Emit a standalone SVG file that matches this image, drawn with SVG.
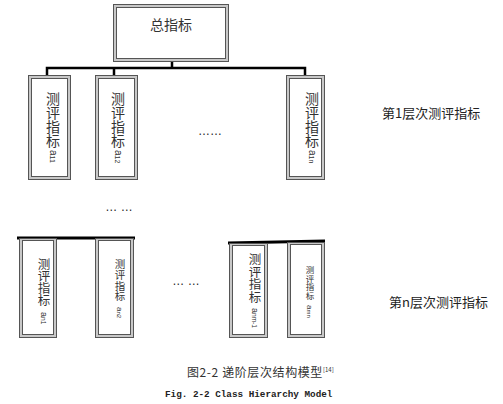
<svg xmlns="http://www.w3.org/2000/svg" width="503" height="404" viewBox="0 0 503 404">
<style>
.o{fill:#c8c8c8;stroke:#555;stroke-width:1}
.i{fill:#fff;stroke:#555;stroke-width:1}
.c{font-family:"Noto Sans CJK SC",sans-serif;fill:#333;text-anchor:middle}
.s{font-family:"Liberation Sans",sans-serif;fill:#333}
.l{font-family:"Noto Sans CJK SC",serif;fill:#222;font-size:13px}
.w{stroke:#000;fill:none}
.d{font-family:"Liberation Sans",sans-serif;fill:#222;font-size:12px;text-anchor:middle}
</style>
<rect width="503" height="404" fill="#fff"/>
<g id="connectors">
<path class="w" stroke-width="2.5" d="M172,62V68M47,75V68H305V75M114,68V75"/>
<path class="w" stroke-width="3" d="M17,238H135M228,243L325,241"/>
</g>
<g id="root">
<rect class="o" x="113.5" y="4.5" width="115" height="57"/>
<rect class="i" x="116.5" y="7.5" width="109" height="51"/>
<text class="c" x="171" y="30" font-size="14">总指标</text>
</g>
<g id="a11">
<rect class="o" x="28.5" y="75.5" width="42" height="104"/>
<rect class="i" x="31.5" y="78.5" width="36" height="98"/>
<text class="c" font-size="14"><tspan x="53" y="104">测</tspan><tspan x="53" y="118">评</tspan><tspan x="53" y="132">指</tspan><tspan x="53" y="146">标</tspan></text>
<text class="s" font-size="10" transform="translate(50,150) rotate(90)">a<tspan font-size="7">11</tspan></text>
</g>
<g id="a12">
<rect class="o" x="95.5" y="75.5" width="42" height="104"/>
<rect class="i" x="98.5" y="78.5" width="36" height="98"/>
<text class="c" font-size="14"><tspan x="118" y="104">测</tspan><tspan x="118" y="118">评</tspan><tspan x="118" y="132">指</tspan><tspan x="118" y="146">标</tspan></text>
<text class="s" font-size="10" transform="translate(115,150) rotate(90)">a<tspan font-size="7">12</tspan></text>
</g>
<g id="a1n">
<rect class="o" x="286.5" y="75.5" width="38" height="104"/>
<rect class="i" x="289.5" y="78.5" width="32" height="98"/>
<text class="c" font-size="14"><tspan x="312" y="104">测</tspan><tspan x="312" y="118">评</tspan><tspan x="312" y="132">指</tspan><tspan x="312" y="146">标</tspan></text>
<text class="s" font-size="10" transform="translate(309,150) rotate(90)">a<tspan font-size="7">1n</tspan></text>
</g>
<g id="an1">
<rect class="o" x="19.5" y="238.5" width="37" height="99"/>
<rect class="i" x="22.5" y="240.5" width="31" height="94"/>
<text class="c" font-size="12.5"><tspan x="44" y="269">测</tspan><tspan x="44" y="281">评</tspan><tspan x="44" y="293">指</tspan><tspan x="44" y="305">标</tspan></text>
<text class="s" font-size="9" transform="translate(41,312) rotate(90)">a<tspan font-size="6.5">n1</tspan></text>
</g>
<g id="an2">
<rect class="o" x="95.5" y="238.5" width="38" height="99"/>
<rect class="i" x="98.5" y="240.5" width="32" height="94"/>
<text class="c" font-size="10.5"><tspan x="120" y="268">测</tspan><tspan x="120" y="279">评</tspan><tspan x="120" y="290">指</tspan><tspan x="120" y="300">标</tspan></text>
<text class="s" font-size="8" transform="translate(117,307) rotate(90)">a<tspan font-size="6">n2</tspan></text>
</g>
<g id="anm1">
<rect class="o" x="229.5" y="243.5" width="38" height="94"/>
<rect class="i" x="232.5" y="245.5" width="32" height="89"/>
<text class="c" font-size="12.5"><tspan x="255" y="264">测</tspan><tspan x="255" y="277">评</tspan><tspan x="255" y="289">指</tspan><tspan x="255" y="302">标</tspan></text>
<text class="s" font-size="9" transform="translate(252,308) rotate(90)">a<tspan font-size="6.5">nm-1</tspan></text>
</g>
<g id="amn">
<rect class="o" x="287.5" y="242.5" width="37" height="95"/>
<rect class="i" x="290.5" y="244.5" width="31" height="90"/>
<text class="c" font-size="8.5"><tspan x="310" y="273">测</tspan><tspan x="310" y="282">评</tspan><tspan x="310" y="290">指</tspan><tspan x="310" y="299">标</tspan></text>
<text class="s" font-size="8" transform="translate(307,305) rotate(90)">a<tspan font-size="6">mn</tspan></text>
</g>
<text class="d" x="210" y="135">……</text>
<text class="d" x="119" y="211">… …</text>
<text class="d" x="186" y="285">… …</text>
<text class="l" x="382" y="118">第1层次测评指标</text>
<text class="l" x="389" y="307">第n层次测评指标</text>
<text font-family="Noto Sans CJK SC,sans-serif" font-size="12" letter-spacing="0.6" fill="#333" x="187" y="377">图2-2 递阶层次结构模型<tspan font-size="6" dy="-5" letter-spacing="0">[14]</tspan></text>
<text font-family="Liberation Mono,monospace" font-size="9.3" font-weight="bold" fill="#222" x="165" y="397">Fig. 2-2 Class Hierarchy Model</text>
</svg>
